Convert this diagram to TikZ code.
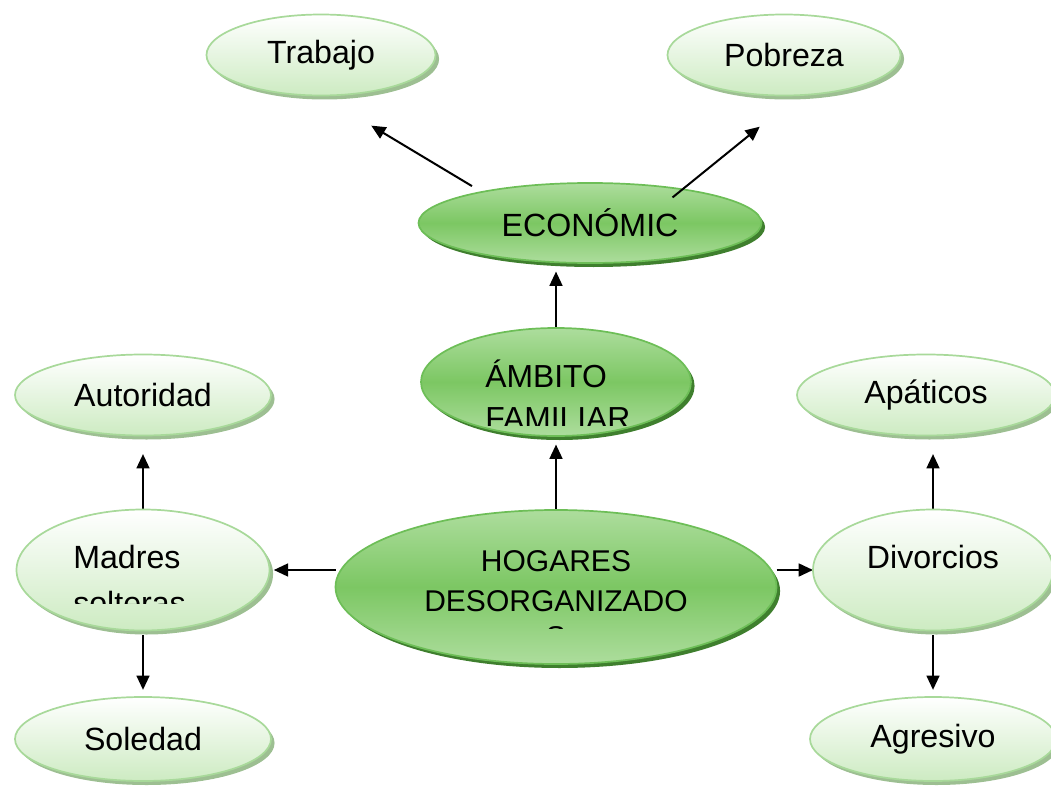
\documentclass[tikz,border=0pt]{standalone}
\usepackage{fontspec}
\setmainfont{Liberation Sans}
\usetikzlibrary{shapes.geometric,shadows,arrows.meta}

\definecolor{lgborder}{HTML}{A8D99A}
\definecolor{lgbottom}{HTML}{CDEBC2}
\definecolor{lgshadow}{HTML}{9DBF92}
\definecolor{dgtop}{HTML}{ADDD9D}
\definecolor{dgmid}{HTML}{7CC763}
\definecolor{dgborder}{HTML}{6DBE57}
\definecolor{dgshadow}{HTML}{3F7F2E}

\pgfdeclarelayer{background}
\pgfsetlayers{background,main}

\tikzset{
    bubble/.style={ellipse, inner sep=0pt, outer sep=0pt, line width=1.2pt,
        font=\fontsize{22.5}{30}\selectfont},
    light/.style={bubble, draw=lgborder, top color=white, bottom color=lgbottom,
        drop shadow={shadow xshift=2.5pt, shadow yshift=-2.8pt, fill=lgshadow, opacity=1}},
    dark/.style={bubble, draw=dgborder, top color=dgtop, bottom color=dgtop, middle color=dgmid,
        drop shadow={shadow xshift=2.5pt, shadow yshift=-2.8pt, fill=dgshadow, opacity=1}},
    arr/.style={-{Triangle[length=10pt,width=9pt]}, line width=1.4pt}
}

\begin{document}
\begin{tikzpicture}[x=0.7pt, y=-0.7pt]
    \useasboundingbox (0,0) rectangle (1051,798);

    % top row
    \node[light, minimum width=160.3pt, minimum height=56.7pt] (trabajo) at (321,55) {Trabajo};
    \node[light, minimum width=163.1pt, minimum height=56.7pt] (pobreza) at (784,55) {Pobreza};
    \node[dark, minimum width=240.1pt, minimum height=56pt] (economico) at (590,223) {ECONÓMIC};

    % middle
    \node[dark, minimum width=189pt, minimum height=75.6pt] (ambito) at (556,382) {};
    \node[dark, minimum width=308.7pt, minimum height=107.8pt] (hogares) at (556,587) {};

    % left column
    \node[light, minimum width=179.2pt, minimum height=56.7pt] (autoridad) at (143,395) {Autoridad};
    \node[light, minimum width=177.1pt, minimum height=84.7pt] (madres) at (143,570) {};
    \node[light, minimum width=179.2pt, minimum height=58.8pt] (soledad) at (143,739) {Soledad};

    % right column
    \node[light, minimum width=180.6pt, minimum height=56.7pt] (apaticos) at (926,395) {Apáticos};
    \node[light, minimum width=168pt, minimum height=84.7pt] (divorcios) at (933,570)
        {\raisebox{9pt}[\height][\depth]{Divorcios}};
    \node[light, minimum width=172.2pt, minimum height=58.8pt] (agresivo) at (933,739) {Agresivo};

    % texts cut by their boxes (base = last line)
    \begin{scope}
        \clip (470,340) rectangle (700,425);
        \node[anchor=base west, align=left, inner sep=0pt, font=\fontsize{22.3}{29.4}\selectfont]
            (ambitotxt) at (485,429) {ÁMBITO\\FAMILIAR};
    \end{scope}
    \begin{scope}
        \clip (60,530) rectangle (260,603);
        \node[anchor=base west, align=left, inner sep=0pt, font=\fontsize{22.5}{32.2}\selectfont]
            (madrestxt) at (73,614) {Madres\\solteras};
    \end{scope}
    \begin{scope}
        \clip (400,530) rectangle (720,628);
        \node[anchor=base, align=center, inner sep=0pt, font=\fontsize{21}{28}\selectfont]
            (hogarestxt) at (556,647) {HOGARES\\DESORGANIZADO\\[-3pt]S};
    \end{scope}

    \draw[arr, shorten <=8pt, shorten >=41pt] (economico.164) -- (trabajo.south);
    \draw[arr, shorten <=-9pt, shorten >=35pt] (economico.20) -- (pobreza.-70);

    \begin{pgfonlayer}{background}
        \draw[arr, shorten >=6pt] (ambito.north) -- (ambito.north |- economico.south);
        \draw[arr, shorten >=6pt] (hogares) -- (ambito);
        \draw[arr, shorten >=3pt] (hogares.west |- madres.east) -- (madres.east);
        \draw[arr] (hogares.east |- divorcios.west) -- (divorcios.west);
        \draw[arr, shorten >=13pt] (madres) -- (autoridad);
        \draw[arr, shorten <=3pt, shorten >=5pt] (madres) -- (soledad);
        \draw[arr, shorten >=13pt] (divorcios.north) -- (divorcios.north |- apaticos.south);
        \draw[arr, shorten <=3pt, shorten >=5pt] (divorcios) -- (agresivo);
    \end{pgfonlayer}
\end{tikzpicture}
\end{document}
